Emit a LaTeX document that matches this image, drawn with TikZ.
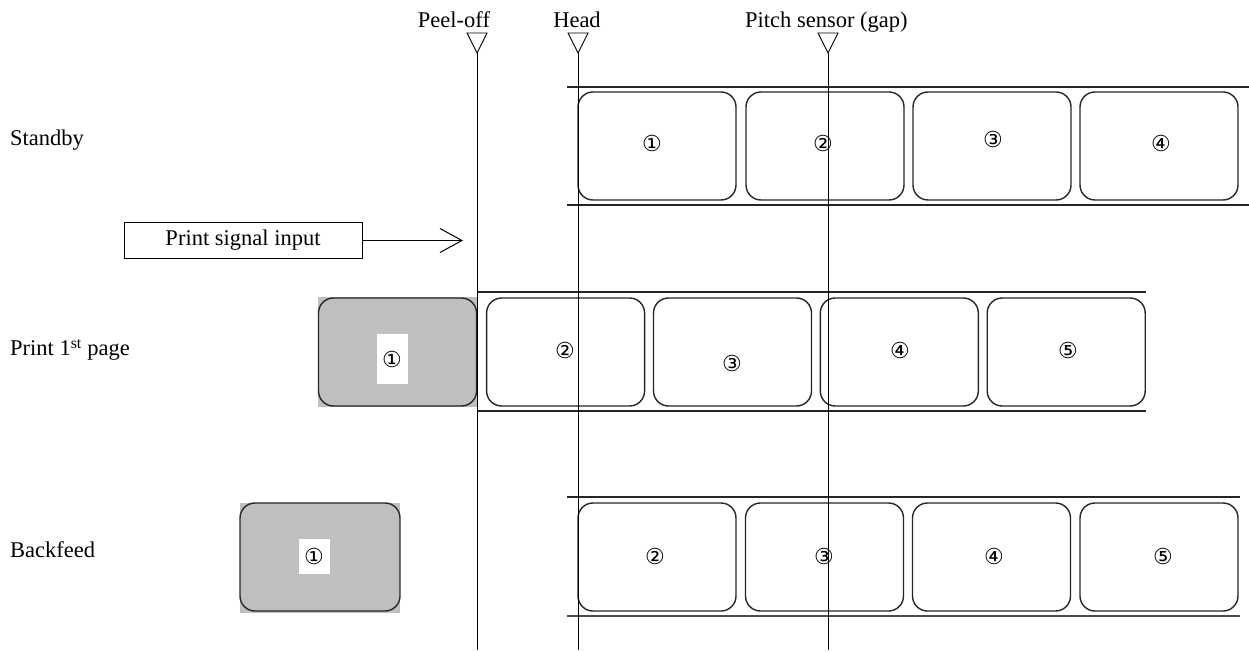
\documentclass[tikz,border=0pt]{standalone}
\usepackage{fontspec}
\setmainfont{Liberation Serif}
\newfontfamily\circfont{DejaVu Sans}
\usetikzlibrary{arrows.meta}
\begin{document}
\begin{tikzpicture}[x=1pt,y=-1pt,
  txt/.style={font=\fontsize{22.5}{26}\selectfont, inner sep=0pt},
  num/.style={font=\circfont\fontsize{22}{24}\selectfont, inner sep=0pt},
  numw/.style={num, fill=white, minimum width=31pt},
  label box/.style={draw=black!85, line width=1.4pt, rounded corners=15pt, minimum width=158pt, minimum height=108pt, inner sep=0pt, outer sep=0pt},
  tape/.style={draw=black!85, line width=1.3pt},
  guide/.style={draw=black, line width=0.9pt},
  marker/.style={draw=black, line width=0.9pt, fill=white},
  sigbox/.style={draw=black, line width=1pt, minimum width=238pt, minimum height=35pt, inner sep=0pt, font=\fontsize{22.5}{26}\selectfont},
  grayfill/.style={fill=black!25}
]
\useasboundingbox (0,0) rectangle (1249,652);

% top labels
\node[txt, anchor=base] (lpeel) at (454,28) {Peel-off};
\node[txt, anchor=base] (lhead) at (577,28) {Head};
\node[txt, anchor=base west] (lpitch) at (745,28) {Pitch sensor (gap)};

% row labels
\node[txt, anchor=west] (rstand) at (10,140) {Standby};
\node[txt, anchor=west] (rprint) at (10,350) {Print 1\textsuperscript{st} page};
\node[txt, anchor=west] (rback) at (10,550) {Backfeed};

% tapes
\coordinate (st1) at (567,87);   \coordinate (st2) at (1249,87);
\coordinate (sb1) at (567,205);  \coordinate (sb2) at (1249,205);
\draw[tape] (st1) -- (st2);
\draw[tape] (sb1) -- (sb2);
\coordinate (pt1) at (477,292);  \coordinate (pt2) at (1146,292);
\coordinate (pb1) at (477,411);  \coordinate (pb2) at (1146,411);
\draw[tape] (pt1) -- (pt2);
\draw[tape] (pb1) -- (pb2);
\coordinate (bt1) at (567,497);  \coordinate (bt2) at (1240,497);
\coordinate (bb1) at (567,616);  \coordinate (bb2) at (1240,616);
\draw[tape] (bt1) -- (bt2);
\draw[tape, line width=1.8pt, draw=black!70] (bb1) -- (bb2);

% gray peeled labels
\fill[grayfill] (318,297) rectangle (477,407);
\node[label box] (p1) at (397.5,352) {};
\fill[grayfill] (240,503) rectangle (400,613);
\node[label box, minimum width=160pt] (b1) at (320,557) {};

% standby labels
\node[label box] (s1) at (657,146) {};
\node[label box] (s2) at (825,146) {};
\node[label box] (s3) at (992,146) {};
\node[label box] (s4) at (1159,146) {};
% print labels
\node[label box] (p2) at (565.6,352) {};
\node[label box] (p3) at (732.5,352) {};
\node[label box] (p4) at (899.3,352) {};
\node[label box] (p5) at (1066.2,352) {};
% backfeed labels
\node[label box] (b2) at (657,557) {};
\node[label box] (b3) at (824.5,557) {};
\node[label box] (b4) at (991.5,557) {};
\node[label box] (b5) at (1159,557) {};

% guide lines with markers
\coordinate (ga) at (477,53);  \coordinate (gae) at (477,650);
\coordinate (gb) at (578,53);  \coordinate (gbe) at (578,650);
\coordinate (gc) at (828,53);  \coordinate (gce) at (828,650);
\draw[guide] (ga) -- (gae);
\draw[guide] (gb) -- (gbe);
\draw[guide] (gc) -- (gce);
\draw[marker] (ga) -- ++(-10,-20) -- ++(20,0) -- cycle;
\draw[marker] (gb) -- ++(-10,-20) -- ++(20,0) -- cycle;
\draw[marker] (gc) -- ++(-10,-20) -- ++(20,0) -- cycle;

% numbers
\node[num] (n s1) at (652,143) {①};
\node[num] (n s2) at (823,143) {②};
\node[num] (n s3) at (993,139) {③};
\node[num] (n s4) at (1161,143) {④};
\node[numw, minimum height=50pt] (n p1) at (392,359) {①};
\node[num] (n p2) at (565,350) {②};
\node[num] (n p3) at (732,363) {③};
\node[num] (n p4) at (900,350) {④};
\node[num] (n p5) at (1068,350) {⑤};
\node[numw, minimum height=35pt] (n b1) at (314,556) {①};
\node[num] (n b2) at (655,556) {②};
\node[num] (n b3) at (824,556) {③};
\node[num] (n b4) at (994,556) {④};
\node[num] (n b5) at (1163,556) {⑤};

% print signal
\node[sigbox] (sig) at (243,240.5) {Print signal input};
\coordinate (sigend) at (463,240.5);
\draw[line width=1pt, -{Straight Barb[length=22pt,width=24pt,line width=1pt]}] (sig.east) -- (sigend);
\end{tikzpicture}
\end{document}
